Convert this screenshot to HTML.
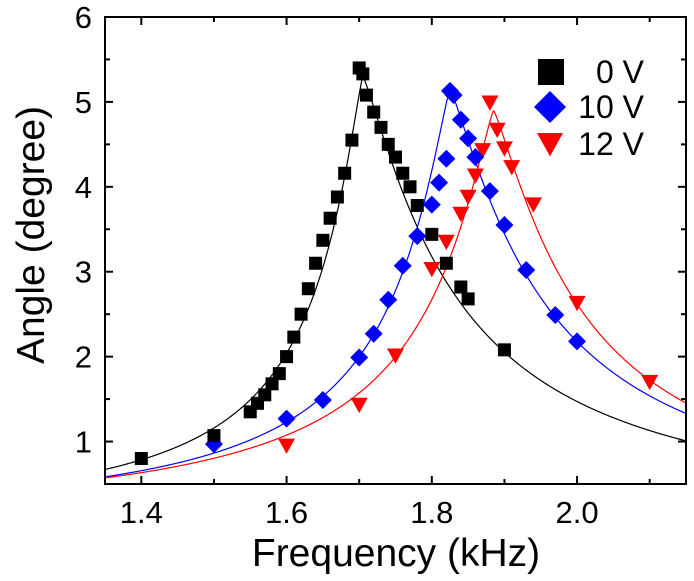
<!DOCTYPE html>
<html><head><meta charset="utf-8"><style>
html,body{margin:0;padding:0;background:#fff;}
svg{display:block;font-family:"Liberation Sans",Arial,sans-serif;}
</style></head><body>
<svg id="chart" width="694" height="581" viewBox="0 0 694 581">
<g id="plot"></g>
</svg>
<script>
const xTicks=[1.4,1.6,1.8,2.0];
const xTickLabels=["1.4","1.6","1.8","2.0"];
const yTicks=[1,2,3,4,5,6];
const yTickLabels=["1","2","3","4","5","6"];
const f0V=[1.40,1.50,1.55,1.56,1.57,1.58,1.59,1.60,1.61,1.62,1.63,1.64,1.65,1.66,1.67,1.68,1.69,1.70,1.705,1.71,1.72,1.73,1.74,1.75,1.76,1.77,1.78,1.80,1.82,1.84,1.85,1.90];
const a0V=[0.80,1.07,1.35,1.45,1.55,1.68,1.80,2.00,2.23,2.50,2.80,3.10,3.37,3.63,3.88,4.16,4.55,5.40,5.33,5.08,4.88,4.70,4.50,4.35,4.16,4.00,3.78,3.44,3.10,2.82,2.68,2.08];
const f10V=[1.50,1.60,1.65,1.70,1.72,1.74,1.76,1.78,1.80,1.81,1.82,1.825,1.83,1.84,1.85,1.86,1.88,1.90,1.93,1.97,2.00];
const a10V=[0.97,1.27,1.49,1.99,2.27,2.67,3.07,3.42,3.79,4.05,4.33,5.13,5.08,4.79,4.57,4.35,3.95,3.55,3.02,2.49,2.18];
const f12V=[1.60,1.70,1.75,1.80,1.82,1.84,1.85,1.86,1.87,1.88,1.89,1.90,1.91,1.94,2.00,2.10];
const a12V=[0.95,1.43,2.01,3.03,3.35,3.68,3.88,4.13,4.43,4.99,4.67,4.45,4.23,3.79,2.63,1.70];
// fit parameters: [peak freq, peak amplitude, left width, right width]
const fit0V=[1.705,5.3,0.071,0.133];
const fit10V=[1.825,5.15,0.0856,0.135];
const fit12V=[1.885,4.9,0.099,0.129];
const fitPower=1.2;

const L=105,R=686,T=17,B=484,xmin=1.35,xmax=2.15,ymin=0.5,ymax=6;
const X=v=>L+(v-xmin)/(xmax-xmin)*(R-L);
const Y=v=>B-(v-ymin)/(ymax-ymin)*(B-T);
const NS="http://www.w3.org/2000/svg";
const g=document.getElementById('plot');
function mk(tag,attrs,parent){const e=document.createElementNS(NS,tag);for(const k in attrs)e.setAttribute(k,attrs[k]);(parent||g).appendChild(e);return e;}

const clip=mk('clipPath',{id:'cp'});mk('rect',{x:L,y:T,width:R-L,height:B-T},clip);
const cg=mk('g',{'clip-path':'url(#cp)'});
function curveIn(p,c,n){
  let d="";
  for(let i=0;i<=600;i++){const f=xmin+(xmax-xmin)*i/600;const dd=f-p[0];const w=dd<0?p[2]:p[3];const y=p[1]/(1+Math.pow(Math.abs(dd)/w,fitPower));d+=(i?"L":"M")+X(f).toFixed(2)+","+Y(y).toFixed(2);}
  const e=mk('path',{d:d,fill:'none',stroke:c,'stroke-width':1.2},cg);
  
  
}
curveIn(fit0V,'#000','fit-curve-0v');
curveIn(fit10V,'#0000ff','fit-curve-10v');
curveIn(fit12V,'#ff0000','fit-curve-12v');

function square(cx,cy,s,parent){return mk('rect',{x:cx-s/2,y:cy-s/2,width:s,height:s,fill:'#000'},parent);}
function diamond(cx,cy,s,parent){return mk('polygon',{points:`${cx},${cy-s} ${cx+s},${cy} ${cx},${cy+s} ${cx-s},${cy}`,fill:'#0000ff'},parent);}
function tri(cx,cy,s,parent){return mk('polygon',{points:`${cx-s},${cy-s*0.85} ${cx+s},${cy-s*0.85} ${cx},${cy+s*0.95}`,fill:'#ff0000'},parent);}

f12V.forEach((f,i)=>{const e=tri(X(f),Y(a12V[i]),8.5);

});
f10V.forEach((f,i)=>{const e=diamond(X(f),Y(a10V[i]),9);

});
f0V.forEach((f,i)=>{const e=square(X(f),Y(a0V[i]),13);

});

const fr=mk('rect',{x:L,y:T,width:R-L,height:B-T,fill:'none',stroke:'#000','stroke-width':2});


xTicks.forEach((v,i)=>{
  mk('line',{x1:X(v),x2:X(v),y1:B,y2:B-8,stroke:'#000','stroke-width':2});
  mk('line',{x1:X(v),x2:X(v),y1:T,y2:T+8,stroke:'#000','stroke-width':2});
  const t=mk('text',{x:X(v),y:B+39,'font-size':31,'text-anchor':'middle',fill:'#000'});t.textContent=xTickLabels[i];
  
  
});
for(let v=1.5;v<2.15;v+=0.2){mk('line',{x1:X(v),x2:X(v),y1:B,y2:B-5,stroke:'#000','stroke-width':2});mk('line',{x1:X(v),x2:X(v),y1:T,y2:T+5,stroke:'#000','stroke-width':2});}
yTicks.forEach((v,i)=>{
  mk('line',{x1:L,x2:L+8,y1:Y(v),y2:Y(v),stroke:'#000','stroke-width':2});
  mk('line',{x1:R,x2:R-8,y1:Y(v),y2:Y(v),stroke:'#000','stroke-width':2});
  const t=mk('text',{x:L-13,y:Y(v)+11,'font-size':31,'text-anchor':'end',fill:'#000'});t.textContent=yTickLabels[i];
  
  
});
for(let v=1.5;v<6;v+=1){mk('line',{x1:L,x2:L+5,y1:Y(v),y2:Y(v),stroke:'#000','stroke-width':2});mk('line',{x1:R,x2:R-5,y1:Y(v),y2:Y(v),stroke:'#000','stroke-width':2});}
const xt=mk('text',{x:396,y:566,'font-size':39,'text-anchor':'middle',fill:'#000'});xt.textContent='Frequency (kHz)';


const yt=mk('text',{x:0,y:0,'font-size':39,'text-anchor':'middle',fill:'#000',transform:`translate(44,235) rotate(-90)`});yt.textContent='Angle (degree)';


const lg=mk('g',{});


square(551,72,26,lg);diamond(550,107,16,lg);tri(550,144,13,lg);
[['0 V',72],['10 V',107],['12 V',144]].forEach(([s,y])=>{const t=mk('text',{x:644,y:y+11,'font-size':32,'text-anchor':'end',fill:'#000'},lg);t.textContent=s;

});
</script>
</body></html>
